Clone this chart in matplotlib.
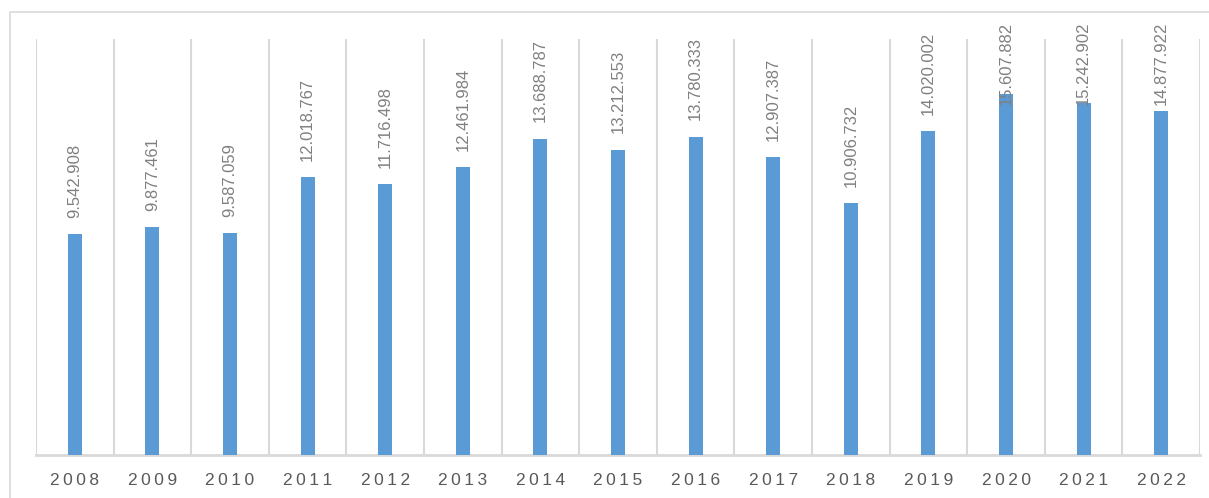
import matplotlib.pyplot as plt
import matplotlib.patches as mpatches
import numpy as np

plt.rcParams['font.family'] = ['Liberation Sans', 'DejaVu Sans']

years = ['2008', '2009', '2010', '2011', '2012', '2013', '2014', '2015',
         '2016', '2017', '2018', '2019', '2020', '2021', '2022']
values = [9.542908, 9.877461, 9.587059, 12.018767, 11.716498, 12.461984,
          13.688787, 13.212553, 13.780333, 12.907387, 10.906732, 14.020002,
          15.607882, 15.242902, 14.877922]
labels = ['9.542.908', '9.877.461', '9.587.059', '12.018.767', '11.716.498',
          '12.461.984', '13.688.787', '13.212.553', '13.780.333', '12.907.387',
          '10.906.732', '14.020.002', '15.607.882', '15.242.902', '14.877.922']

fig = plt.figure(figsize=(12.09, 4.98), dpi=100)
ax = fig.add_axes([0.0298, 0.0863, 0.9628, 0.8354])

# cadre gris autour du graphique
fig.patches.append(mpatches.Rectangle((0.0083, -0.1), 1.2, 1.0759,
                                      transform=fig.transFigure, fill=False,
                                      edgecolor='#d9d9d9', linewidth=1.2))

x = np.arange(len(years))
ax.bar(x, values, width=0.18, color='#5b9bd5', zorder=3)

ax.set_xlim(-0.5, len(years) - 0.5)
ax.set_ylim(0, 18)

# lignes verticales entre les catégories
for b in np.arange(-0.5, len(years), 1.0):
    ax.axvline(b, color='#d9d9d9', linewidth=1.5, zorder=1)

for s in ['top', 'right', 'left']:
    ax.spines[s].set_visible(False)
ax.spines['bottom'].set_color('#d9d9d9')
ax.spines['bottom'].set_linewidth(2)

ax.set_yticks([])
ax.set_xticks(x)
ax.set_xticklabels(['\u2009'.join(y) for y in years], fontsize=12.5, color='#595959')
ax.tick_params(axis='x', length=0, pad=13)

for xi, v, lab in zip(x, values, labels):
    ypos = min(v + 0.7, 15.15)
    ax.text(xi, ypos, lab, rotation=90, ha='center', va='bottom',
            fontsize=12, color='#808080', clip_on=False, zorder=4)

fig.savefig('out.png', dpi=100)
